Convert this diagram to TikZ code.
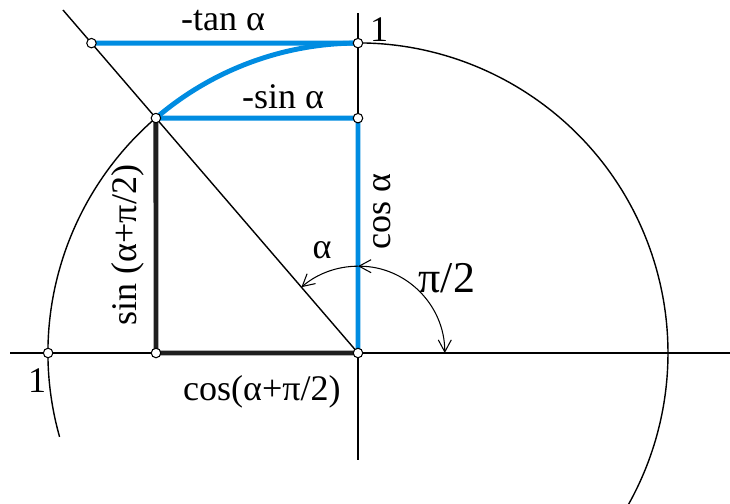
\documentclass[tikz,border=0pt]{standalone}
\usepackage{fontspec}
\setmainfont{Liberation Serif}
\usetikzlibrary{arrows.meta}
\definecolor{azulc}{RGB}{0,140,225}

\begin{document}
\begin{tikzpicture}[scale=6.2,line width=0.8pt,>={Straight Barb[length=2.4mm,width=2.6mm]},
  azul/.style={draw=azulc,line width=2.8pt},
  grueso/.style={draw=black!88,line width=2.8pt},
  punto/.style={circle,draw,fill=white,line width=0.6pt,inner sep=0pt,minimum size=1.9mm},
  etq/.style={font=\fontsize{20.5}{22}\selectfont}]
  \useasboundingbox (-1.1548,-0.487) rectangle (1.2,1.1387);
  % puntos
  \coordinate (O) at (0,0);
  \coordinate (P) at (130.7:1);
  \coordinate (Q) at (P -| O);
  \coordinate (R) at (P |- O);
  \coordinate (T) at (0,1);
  \coordinate (S) at (130.7:1.319);
  \coordinate (L) at (-1,0);
  \coordinate (D) at (130.7:1.46);
  \coordinate (ejeI) at (-1.1226,0); \coordinate (ejeD) at (1.2,0);
  \coordinate (ejeA) at (0,1.097); \coordinate (ejeB) at (0,-0.345);
  % ejes, circunferencia y recta
  \draw (ejeI) -- (ejeD);
  \draw (ejeA) -- (ejeB);
  \draw (195.7:1) arc[start angle=195.7,end angle=-29.2,radius=1];
  \draw (D) -- (O);
  % segmentos
  \draw[grueso] (P) -- (R) -- (O);
  \draw[azul] (S) -- (T);
  \draw[azul] (P) -- (Q) -- (O);
  \draw[azul] (P) arc[start angle=130.7,end angle=90,radius=1];
  % angulos
  \draw[->,line width=0.6pt] (90:0.28) arc[start angle=90,end angle=130.7,radius=0.28];
  \draw[<->,line width=0.6pt] (0:0.28) arc[start angle=0,end angle=90,radius=0.28];
  \foreach \p in {O,P,Q,R,T,S,L} \node[punto] (d\p) at (\p) {};
  % textos
  \node[etq] (tan) at (-0.435,1.074) {-tan α};
  \node[etq] (uno1) at (0.068,1.042) {1};
  \node[etq] (sin) at (-0.242,0.826) {-sin α};
  \node[etq,rotate=90] (cos) at (0.077,0.455) {cos α};
  \node[etq,rotate=90] (sinpi) at (-0.742,0.348) {sin (α+π/2)};
  \node[etq] (cospi) at (-0.31,-0.126) {cos(α+π/2)};
  \node[etq] (uno2) at (-1.035,-0.09) {1};
  \node[etq] (alfa) at (-0.116,0.332) {α};
  \node[font=\fontsize{25}{27}\selectfont] (pimed) at (0.287,0.242) {π/2};
\end{tikzpicture}
\end{document}
